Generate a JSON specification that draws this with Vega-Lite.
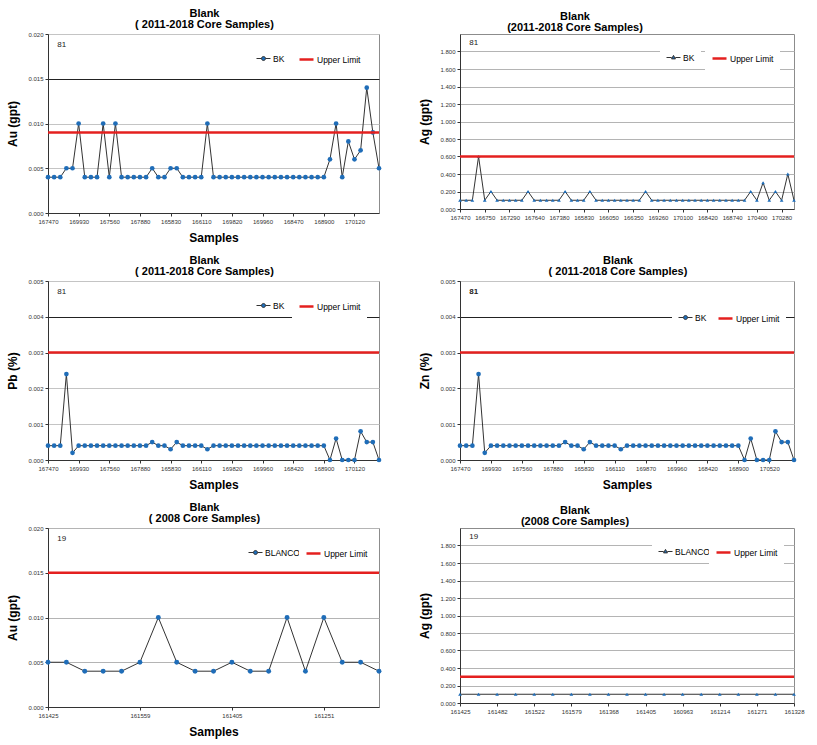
{
  "$schema": "https://vega.github.io/schema/vega-lite/v6.json",
  "padding": {"left": 6, "top": 7, "right": 4, "bottom": 2},
  "background": "white",
  "resolve": {"scale": {"color": "independent"}, "legend": {"color": "independent"}},
  "config": {
    "font": "Liberation Sans",
    "view": {"stroke": "#8c8c8c", "strokeWidth": 1},
    "axis": {
      "labelFontSize": 6,
      "labelColor": "#333",
      "labelFont": "Liberation Sans",
      "titleFont": "Liberation Sans",
      "titleFontSize": 12,
      "titleFontWeight": "bold",
      "titleColor": "#000",
      "domainColor": "#333",
      "tickColor": "#333",
      "tickSize": 3,
      "labelOverlap": false,
      "labelFlush": false,
      "gridColor": "#b4b4b4",
      "gridWidth": 1.2
    },
    "axisX": {"grid": false, "labelAngle": 0, "titlePadding": 8, "labelPadding": 2},
    "axisY": {"titlePadding": 8, "labelPadding": 2},
    "title": {"fontSize": 11, "fontWeight": "bold", "color": "#000", "frame": "group", "offset": 1, "lineHeight": 11, "dx": -9},
    "legend": {
      "orient": "none",
      "direction": "horizontal",
      "title": null,
      "fillColor": "white",
      "padding": 6,
      "labelFontSize": 8.5,
      "labelColor": "#000",
      "labelFont": "Liberation Sans",
      "symbolSize": 196,
      "labelOffset": 2,
      "symbolOpacity": 1
    },
    "text": {"font": "Liberation Sans"}
  },
  "datasets": {
    "au1": [
      {"n": 0, "v": 0.004}, {"n": 1, "v": 0.004}, {"n": 2, "v": 0.004}, {"n": 3, "v": 0.005}, {"n": 4, "v": 0.005},
      {"n": 5, "v": 0.010}, {"n": 6, "v": 0.004}, {"n": 7, "v": 0.004}, {"n": 8, "v": 0.004}, {"n": 9, "v": 0.010},
      {"n": 10, "v": 0.004}, {"n": 11, "v": 0.010}, {"n": 12, "v": 0.004}, {"n": 13, "v": 0.004}, {"n": 14, "v": 0.004},
      {"n": 15, "v": 0.004}, {"n": 16, "v": 0.004}, {"n": 17, "v": 0.005}, {"n": 18, "v": 0.004}, {"n": 19, "v": 0.004},
      {"n": 20, "v": 0.005}, {"n": 21, "v": 0.005}, {"n": 22, "v": 0.004}, {"n": 23, "v": 0.004}, {"n": 24, "v": 0.004},
      {"n": 25, "v": 0.004}, {"n": 26, "v": 0.010}, {"n": 27, "v": 0.004}, {"n": 28, "v": 0.004}, {"n": 29, "v": 0.004},
      {"n": 30, "v": 0.004}, {"n": 31, "v": 0.004}, {"n": 32, "v": 0.004}, {"n": 33, "v": 0.004}, {"n": 34, "v": 0.004},
      {"n": 35, "v": 0.004}, {"n": 36, "v": 0.004}, {"n": 37, "v": 0.004}, {"n": 38, "v": 0.004}, {"n": 39, "v": 0.004},
      {"n": 40, "v": 0.004}, {"n": 41, "v": 0.004}, {"n": 42, "v": 0.004}, {"n": 43, "v": 0.004}, {"n": 44, "v": 0.004},
      {"n": 45, "v": 0.004}, {"n": 46, "v": 0.006}, {"n": 47, "v": 0.010}, {"n": 48, "v": 0.004}, {"n": 49, "v": 0.008},
      {"n": 50, "v": 0.006}, {"n": 51, "v": 0.007}, {"n": 52, "v": 0.014}, {"n": 53, "v": 0.009}, {"n": 54, "v": 0.005}
    ],
    "ag1": [
      {"n": 0, "v": 0.1}, {"n": 1, "v": 0.1}, {"n": 2, "v": 0.1}, {"n": 3, "v": 0.6}, {"n": 4, "v": 0.1},
      {"n": 5, "v": 0.2}, {"n": 6, "v": 0.1}, {"n": 7, "v": 0.1}, {"n": 8, "v": 0.1}, {"n": 9, "v": 0.1},
      {"n": 10, "v": 0.1}, {"n": 11, "v": 0.2}, {"n": 12, "v": 0.1}, {"n": 13, "v": 0.1}, {"n": 14, "v": 0.1},
      {"n": 15, "v": 0.1}, {"n": 16, "v": 0.1}, {"n": 17, "v": 0.2}, {"n": 18, "v": 0.1}, {"n": 19, "v": 0.1},
      {"n": 20, "v": 0.1}, {"n": 21, "v": 0.2}, {"n": 22, "v": 0.1}, {"n": 23, "v": 0.1}, {"n": 24, "v": 0.1},
      {"n": 25, "v": 0.1}, {"n": 26, "v": 0.1}, {"n": 27, "v": 0.1}, {"n": 28, "v": 0.1}, {"n": 29, "v": 0.1},
      {"n": 30, "v": 0.2}, {"n": 31, "v": 0.1}, {"n": 32, "v": 0.1}, {"n": 33, "v": 0.1}, {"n": 34, "v": 0.1},
      {"n": 35, "v": 0.1}, {"n": 36, "v": 0.1}, {"n": 37, "v": 0.1}, {"n": 38, "v": 0.1}, {"n": 39, "v": 0.1},
      {"n": 40, "v": 0.1}, {"n": 41, "v": 0.1}, {"n": 42, "v": 0.1}, {"n": 43, "v": 0.1}, {"n": 44, "v": 0.1},
      {"n": 45, "v": 0.1}, {"n": 46, "v": 0.1}, {"n": 47, "v": 0.2}, {"n": 48, "v": 0.1}, {"n": 49, "v": 0.3},
      {"n": 50, "v": 0.1}, {"n": 51, "v": 0.2}, {"n": 52, "v": 0.1}, {"n": 53, "v": 0.4}, {"n": 54, "v": 0.1}
    ],
    "pb": [
      {"n": 0, "v": 0.0004}, {"n": 1, "v": 0.0004}, {"n": 2, "v": 0.0004}, {"n": 3, "v": 0.0024}, {"n": 4, "v": 0.0002},
      {"n": 5, "v": 0.0004}, {"n": 6, "v": 0.0004}, {"n": 7, "v": 0.0004}, {"n": 8, "v": 0.0004}, {"n": 9, "v": 0.0004},
      {"n": 10, "v": 0.0004}, {"n": 11, "v": 0.0004}, {"n": 12, "v": 0.0004}, {"n": 13, "v": 0.0004}, {"n": 14, "v": 0.0004},
      {"n": 15, "v": 0.0004}, {"n": 16, "v": 0.0004}, {"n": 17, "v": 0.0005}, {"n": 18, "v": 0.0004}, {"n": 19, "v": 0.0004},
      {"n": 20, "v": 0.0003}, {"n": 21, "v": 0.0005}, {"n": 22, "v": 0.0004}, {"n": 23, "v": 0.0004}, {"n": 24, "v": 0.0004},
      {"n": 25, "v": 0.0004}, {"n": 26, "v": 0.0003}, {"n": 27, "v": 0.0004}, {"n": 28, "v": 0.0004}, {"n": 29, "v": 0.0004},
      {"n": 30, "v": 0.0004}, {"n": 31, "v": 0.0004}, {"n": 32, "v": 0.0004}, {"n": 33, "v": 0.0004}, {"n": 34, "v": 0.0004},
      {"n": 35, "v": 0.0004}, {"n": 36, "v": 0.0004}, {"n": 37, "v": 0.0004}, {"n": 38, "v": 0.0004}, {"n": 39, "v": 0.0004},
      {"n": 40, "v": 0.0004}, {"n": 41, "v": 0.0004}, {"n": 42, "v": 0.0004}, {"n": 43, "v": 0.0004}, {"n": 44, "v": 0.0004},
      {"n": 45, "v": 0.0004}, {"n": 46, "v": 0.0}, {"n": 47, "v": 0.0006}, {"n": 48, "v": 0.0}, {"n": 49, "v": 0.0},
      {"n": 50, "v": 0.0}, {"n": 51, "v": 0.0008}, {"n": 52, "v": 0.0005}, {"n": 53, "v": 0.0005}, {"n": 54, "v": 0.0}
    ],
    "zn": [
      {"n": 0, "v": 0.0004}, {"n": 1, "v": 0.0004}, {"n": 2, "v": 0.0004}, {"n": 3, "v": 0.0024}, {"n": 4, "v": 0.0002},
      {"n": 5, "v": 0.0004}, {"n": 6, "v": 0.0004}, {"n": 7, "v": 0.0004}, {"n": 8, "v": 0.0004}, {"n": 9, "v": 0.0004},
      {"n": 10, "v": 0.0004}, {"n": 11, "v": 0.0004}, {"n": 12, "v": 0.0004}, {"n": 13, "v": 0.0004}, {"n": 14, "v": 0.0004},
      {"n": 15, "v": 0.0004}, {"n": 16, "v": 0.0004}, {"n": 17, "v": 0.0005}, {"n": 18, "v": 0.0004}, {"n": 19, "v": 0.0004},
      {"n": 20, "v": 0.0003}, {"n": 21, "v": 0.0005}, {"n": 22, "v": 0.0004}, {"n": 23, "v": 0.0004}, {"n": 24, "v": 0.0004},
      {"n": 25, "v": 0.0004}, {"n": 26, "v": 0.0003}, {"n": 27, "v": 0.0004}, {"n": 28, "v": 0.0004}, {"n": 29, "v": 0.0004},
      {"n": 30, "v": 0.0004}, {"n": 31, "v": 0.0004}, {"n": 32, "v": 0.0004}, {"n": 33, "v": 0.0004}, {"n": 34, "v": 0.0004},
      {"n": 35, "v": 0.0004}, {"n": 36, "v": 0.0004}, {"n": 37, "v": 0.0004}, {"n": 38, "v": 0.0004}, {"n": 39, "v": 0.0004},
      {"n": 40, "v": 0.0004}, {"n": 41, "v": 0.0004}, {"n": 42, "v": 0.0004}, {"n": 43, "v": 0.0004}, {"n": 44, "v": 0.0004},
      {"n": 45, "v": 0.0004}, {"n": 46, "v": 0.0}, {"n": 47, "v": 0.0006}, {"n": 48, "v": 0.0}, {"n": 49, "v": 0.0},
      {"n": 50, "v": 0.0}, {"n": 51, "v": 0.0008}, {"n": 52, "v": 0.0005}, {"n": 53, "v": 0.0005}, {"n": 54, "v": 0.0}
    ],
    "au2": [
      {"n": 0, "v": 0.005}, {"n": 1, "v": 0.005}, {"n": 2, "v": 0.004}, {"n": 3, "v": 0.004}, {"n": 4, "v": 0.004},
      {"n": 5, "v": 0.005}, {"n": 6, "v": 0.010}, {"n": 7, "v": 0.005}, {"n": 8, "v": 0.004}, {"n": 9, "v": 0.004},
      {"n": 10, "v": 0.005}, {"n": 11, "v": 0.004}, {"n": 12, "v": 0.004}, {"n": 13, "v": 0.010}, {"n": 14, "v": 0.004},
      {"n": 15, "v": 0.010}, {"n": 16, "v": 0.005}, {"n": 17, "v": 0.005}, {"n": 18, "v": 0.004}
    ],
    "ag2": [
      {"n": 0, "v": 0.1}, {"n": 1, "v": 0.1}, {"n": 2, "v": 0.1}, {"n": 3, "v": 0.1}, {"n": 4, "v": 0.1},
      {"n": 5, "v": 0.1}, {"n": 6, "v": 0.1}, {"n": 7, "v": 0.1}, {"n": 8, "v": 0.1}, {"n": 9, "v": 0.1},
      {"n": 10, "v": 0.1}, {"n": 11, "v": 0.1}, {"n": 12, "v": 0.1}, {"n": 13, "v": 0.1}, {"n": 14, "v": 0.1},
      {"n": 15, "v": 0.1}, {"n": 16, "v": 0.1}, {"n": 17, "v": 0.1}, {"n": 18, "v": 0.1}
    ]
  },
  "columns": 2,
  "spacing": {"column": 36, "row": 10},
  "concat": [
    {
      "width": 331, "height": 179,
      "title": {"text": ["Blank", "( 2011-2018 Core Samples)"]},
      "data": {"name": "au1"},
      "resolve": {"scale": {"color": "independent"}, "legend": {"color": "independent"}},
      "layer": [
        {
          "mark": {"type": "line", "color": "#333", "strokeWidth": 1},
          "encoding": {
            "x": {"field": "n", "type": "quantitative", "title": "Samples",
              "scale": {"domain": [0, 54], "nice": false, "zero": false},
              "axis": {"values": [0, 5, 10, 15, 20, 25, 30, 35, 40, 45, 50], "tickCount": 100, "labelOverlap": false,
                "labelExpr": "['167470','169930','167560','167880','165830','166110','169820','169960','168470','168900','170120'][round(datum.value/5)]"}},
            "y": {"field": "v", "type": "quantitative", "title": "Au (gpt)",
              "scale": {"domain": [0, 0.02], "nice": false},
              "axis": {"values": [0, 0.005, 0.01, 0.015, 0.02], "tickCount": 100, "format": ".3f", "labelOverlap": false,
                "gridColor": {"condition": {"test": "abs(datum.value - 0.015) < 1e-9", "value": "#222"}, "value": "#c4c4c4"}}}
          }
        },
        {
          "mark": {"type": "point", "filled": true, "size": 22, "opacity": 1},
          "encoding": {
            "x": {"field": "n", "type": "quantitative"},
            "y": {"field": "v", "type": "quantitative"},
            "color": {"datum": "BK", "type": "nominal",
              "scale": {"domain": ["BK"], "range": ["#1f6db8"]},
              "legend": {"legendX": 202, "legendY": 11,
                "symbolType": "M-1,0H-0.29M0.29,0H1M0.29,0A0.29,0.29,0,1,1,-0.29,0A0.29,0.29,0,1,1,0.29,0",
                "symbolStrokeColor": "#333", "symbolStrokeWidth": 1}}
          }
        },
        {
          "data": {"values": [{"limit": 0.009}]},
          "mark": {"type": "rule", "strokeWidth": 2.5},
          "encoding": {"y": {"field": "limit", "type": "quantitative"},
            "color": {"datum": "Upper Limit", "type": "nominal",
              "scale": {"domain": ["Upper Limit"], "range": ["#e4201f"]},
              "legend": {"legendX": 244, "legendY": 11, "symbolType": "M-1,0H1", "symbolStrokeWidth": 2.5}}}
        },
        {
          "data": {"values": [{"count": "81"}]},
          "mark": {"type": "text", "fontSize": 8, "color": "#222", "align": "left"},
          "encoding": {"x": {"datum": 1.5, "type": "quantitative"}, "y": {"datum": 0.0188, "type": "quantitative"}, "text": {"field": "count"}}
        }
      ]
    },
    {
      "width": 334, "height": 175,
      "title": {"text": ["Blank", "(2011-2018 Core Samples)"], "dx": -52},
      "data": {"name": "ag1"},
      "resolve": {"scale": {"color": "independent"}, "legend": {"color": "independent"}},
      "layer": [
        {
          "mark": {"type": "line", "color": "#333", "strokeWidth": 1},
          "encoding": {
            "x": {"field": "n", "type": "quantitative", "title": null,
              "scale": {"domain": [0, 54], "nice": false, "zero": false},
              "axis": {"values": [0, 4, 8, 12, 16, 20, 24, 28, 32, 36, 40, 44, 48, 52], "tickCount": 100, "labelOverlap": false,
                "labelExpr": "['167470','166750','167290','167640','167380','165830','166050','166350','169260','170100','168420','168740','170400','170280'][round(datum.value/4)]"}},
            "y": {"field": "v", "type": "quantitative", "title": "Ag (gpt)",
              "scale": {"domain": [0, 2], "nice": false},
              "axis": {"values": [0, 0.2, 0.4, 0.6, 0.8, 1.0, 1.2, 1.4, 1.6, 1.8], "tickCount": 100, "format": ".3f", "labelOverlap": false}}
          }
        },
        {
          "mark": {"type": "point", "filled": true, "shape": "triangle-up", "size": 14, "opacity": 1},
          "encoding": {
            "x": {"field": "n", "type": "quantitative"},
            "y": {"field": "v", "type": "quantitative"},
            "color": {"datum": "BK", "type": "nominal",
              "scale": {"domain": ["BK"], "range": ["#1f6db8"]},
              "legend": {"legendX": 200, "legendY": 10,
                "symbolType": "M-1,0H-0.26M0.26,0H1M0,-0.3L0.28,0.2L-0.28,0.2Z",
                "symbolStrokeColor": "#333", "symbolStrokeWidth": 1}}
          }
        },
        {
          "data": {"values": [{"limit": 0.6}]},
          "mark": {"type": "rule", "strokeWidth": 2.5},
          "encoding": {"y": {"field": "limit", "type": "quantitative"},
            "color": {"datum": "Upper Limit", "type": "nominal",
              "scale": {"domain": ["Upper Limit"], "range": ["#e4201f"]},
              "legend": {"legendX": 245, "legendY": 10, "symbolType": "M-1,0H1", "symbolStrokeWidth": 2.5}}}
        },
        {
          "data": {"values": [{"count": "81"}]},
          "mark": {"type": "text", "fontSize": 8, "color": "#222", "align": "left"},
          "encoding": {"x": {"datum": 1.5, "type": "quantitative"}, "y": {"datum": 1.9, "type": "quantitative"}, "text": {"field": "count"}}
        }
      ]
    },
    {
      "width": 331, "height": 179,
      "title": {"text": ["Blank", "( 2011-2018 Core Samples)"]},
      "data": {"name": "pb"},
      "resolve": {"scale": {"color": "independent"}, "legend": {"color": "independent"}},
      "layer": [
        {
          "mark": {"type": "line", "color": "#333", "strokeWidth": 1},
          "encoding": {
            "x": {"field": "n", "type": "quantitative", "title": "Samples",
              "scale": {"domain": [0, 54], "nice": false, "zero": false},
              "axis": {"values": [0, 5, 10, 15, 20, 25, 30, 35, 40, 45, 50], "tickCount": 100, "labelOverlap": false,
                "labelExpr": "['167470','169930','167560','167880','165830','166110','169820','169960','168420','168900','170120'][round(datum.value/5)]"}},
            "y": {"field": "v", "type": "quantitative", "title": "Pb (%)",
              "scale": {"domain": [0, 0.005], "nice": false},
              "axis": {"values": [0, 0.001, 0.002, 0.003, 0.004, 0.005], "tickCount": 100, "format": ".3f", "labelOverlap": false,
                "gridColor": {"condition": {"test": "abs(datum.value - 0.004) < 1e-9", "value": "#222"}, "value": "#c4c4c4"}}}
          }
        },
        {
          "mark": {"type": "point", "filled": true, "size": 22, "opacity": 1},
          "encoding": {
            "x": {"field": "n", "type": "quantitative"},
            "y": {"field": "v", "type": "quantitative"},
            "color": {"datum": "BK", "type": "nominal",
              "scale": {"domain": ["BK"], "range": ["#1f6db8"]},
              "legend": {"legendX": 202, "legendY": 11,
                "symbolType": "M-1,0H-0.29M0.29,0H1M0.29,0A0.29,0.29,0,1,1,-0.29,0A0.29,0.29,0,1,1,0.29,0",
                "symbolStrokeColor": "#333", "symbolStrokeWidth": 1}}
          }
        },
        {
          "data": {"values": [{"limit": 0.003}]},
          "mark": {"type": "rule", "strokeWidth": 2.5},
          "encoding": {"y": {"field": "limit", "type": "quantitative"},
            "color": {"datum": "Upper Limit", "type": "nominal",
              "scale": {"domain": ["Upper Limit"], "range": ["#e4201f"]},
              "legend": {"legendX": 244, "legendY": 11, "symbolType": "M-1,0H1", "symbolStrokeWidth": 2.5}}}
        },
        {
          "data": {"values": [{"count": "81"}]},
          "mark": {"type": "text", "fontSize": 8, "color": "#222", "align": "left"},
          "encoding": {"x": {"datum": 1.5, "type": "quantitative"}, "y": {"datum": 0.0047, "type": "quantitative"}, "text": {"field": "count"}}
        }
      ]
    },
    {
      "width": 334, "height": 179,
      "title": {"text": ["Blank", "( 2011-2018 Core Samples)"]},
      "data": {"name": "zn"},
      "resolve": {"scale": {"color": "independent"}, "legend": {"color": "independent"}},
      "layer": [
        {
          "mark": {"type": "line", "color": "#333", "strokeWidth": 1},
          "encoding": {
            "x": {"field": "n", "type": "quantitative", "title": "Samples",
              "scale": {"domain": [0, 54], "nice": false, "zero": false},
              "axis": {"values": [0, 5, 10, 15, 20, 25, 30, 35, 40, 45, 50], "tickCount": 100, "labelOverlap": false,
                "labelExpr": "['167470','169930','167560','167880','165830','166110','169870','169960','168420','168900','170520'][round(datum.value/5)]"}},
            "y": {"field": "v", "type": "quantitative", "title": "Zn (%)",
              "scale": {"domain": [0, 0.005], "nice": false},
              "axis": {"values": [0, 0.001, 0.002, 0.003, 0.004, 0.005], "tickCount": 100, "format": ".3f", "labelOverlap": false,
                "gridColor": {"condition": {"test": "abs(datum.value - 0.004) < 1e-9", "value": "#222"}, "value": "#c4c4c4"}}}
          }
        },
        {
          "mark": {"type": "point", "filled": true, "size": 22, "opacity": 1},
          "encoding": {
            "x": {"field": "n", "type": "quantitative"},
            "y": {"field": "v", "type": "quantitative"},
            "color": {"datum": "BK", "type": "nominal",
              "scale": {"domain": ["BK"], "range": ["#1f6db8"]},
              "legend": {"legendX": 212, "legendY": 23,
                "symbolType": "M-1,0H-0.29M0.29,0H1M0.29,0A0.29,0.29,0,1,1,-0.29,0A0.29,0.29,0,1,1,0.29,0",
                "symbolStrokeColor": "#333", "symbolStrokeWidth": 1}}
          }
        },
        {
          "data": {"values": [{"limit": 0.003}]},
          "mark": {"type": "rule", "strokeWidth": 2.5},
          "encoding": {"y": {"field": "limit", "type": "quantitative"},
            "color": {"datum": "Upper Limit", "type": "nominal",
              "scale": {"domain": ["Upper Limit"], "range": ["#e4201f"]},
              "legend": {"legendX": 251, "legendY": 23, "symbolType": "M-1,0H1", "symbolStrokeWidth": 2.5}}}
        },
        {
          "data": {"values": [{"count": "81"}]},
          "mark": {"type": "text", "fontSize": 8, "fontWeight": "bold", "color": "#222", "align": "left"},
          "encoding": {"x": {"datum": 1.5, "type": "quantitative"}, "y": {"datum": 0.0047, "type": "quantitative"}, "text": {"field": "count"}}
        }
      ]
    },
    {
      "width": 331, "height": 179,
      "title": {"text": ["Blank", "( 2008 Core Samples)"]},
      "data": {"name": "au2"},
      "resolve": {"scale": {"color": "independent"}, "legend": {"color": "independent"}},
      "layer": [
        {
          "mark": {"type": "line", "color": "#333", "strokeWidth": 1},
          "encoding": {
            "x": {"field": "n", "type": "quantitative", "title": "Samples",
              "scale": {"domain": [0, 18], "nice": false, "zero": false},
              "axis": {"values": [0, 5, 10, 15], "tickCount": 100, "labelOverlap": false,
                "labelExpr": "['161425','161559','161405','161251'][round(datum.value/5)]"}},
            "y": {"field": "v", "type": "quantitative", "title": "Au (gpt)",
              "scale": {"domain": [0, 0.02], "nice": false},
              "axis": {"values": [0, 0.005, 0.01, 0.015, 0.02], "tickCount": 100, "format": ".3f", "labelOverlap": false, "gridColor": "#b4b4b4"}}
          }
        },
        {
          "mark": {"type": "point", "filled": true, "size": 24, "opacity": 1},
          "encoding": {
            "x": {"field": "n", "type": "quantitative"},
            "y": {"field": "v", "type": "quantitative"},
            "color": {"datum": "BLANCO", "type": "nominal",
              "scale": {"domain": ["BLANCO"], "range": ["#1f6db8"]},
              "legend": {"legendX": 194, "legendY": 11,
                "symbolType": "M-1,0H-0.29M0.29,0H1M0.29,0A0.29,0.29,0,1,1,-0.29,0A0.29,0.29,0,1,1,0.29,0",
                "symbolStrokeColor": "#333", "symbolStrokeWidth": 1}}
          }
        },
        {
          "data": {"values": [{"limit": 0.015}]},
          "mark": {"type": "rule", "strokeWidth": 2.5},
          "encoding": {"y": {"field": "limit", "type": "quantitative"},
            "color": {"datum": "Upper Limit", "type": "nominal",
              "scale": {"domain": ["Upper Limit"], "range": ["#e4201f"]},
              "legend": {"legendX": 251, "legendY": 11, "symbolType": "M-1,0H1", "symbolStrokeWidth": 2.5}}}
        },
        {
          "data": {"values": [{"count": "19"}]},
          "mark": {"type": "text", "fontSize": 8, "color": "#222", "align": "left"},
          "encoding": {"x": {"datum": 0.5, "type": "quantitative"}, "y": {"datum": 0.0188, "type": "quantitative"}, "text": {"field": "count"}}
        }
      ]
    },
    {
      "width": 334, "height": 175,
      "title": {"text": ["Blank", "(2008 Core Samples)"], "dx": -52},
      "data": {"name": "ag2"},
      "resolve": {"scale": {"color": "independent"}, "legend": {"color": "independent"}},
      "layer": [
        {
          "mark": {"type": "line", "color": "#333", "strokeWidth": 1},
          "encoding": {
            "x": {"field": "n", "type": "quantitative", "title": null,
              "scale": {"domain": [0, 18], "nice": false, "zero": false},
              "axis": {"values": [0, 2, 4, 6, 8, 10, 12, 14, 16, 18], "tickCount": 100, "labelOverlap": false,
                "labelExpr": "['161425','161482','161522','161579','161368','161405','160963','161214','161271','161328'][round(datum.value/2)]"}},
            "y": {"field": "v", "type": "quantitative", "title": "Ag (gpt)",
              "scale": {"domain": [0, 2], "nice": false},
              "axis": {"values": [0, 0.2, 0.4, 0.6, 0.8, 1.0, 1.2, 1.4, 1.6, 1.8], "tickCount": 100, "format": ".3f", "labelOverlap": false}}
          }
        },
        {
          "mark": {"type": "point", "filled": true, "shape": "triangle-up", "size": 14, "opacity": 1},
          "encoding": {
            "x": {"field": "n", "type": "quantitative"},
            "y": {"field": "v", "type": "quantitative"},
            "color": {"datum": "BLANCO", "type": "nominal",
              "scale": {"domain": ["BLANCO"], "range": ["#1f6db8"]},
              "legend": {"legendX": 192, "legendY": 10,
                "symbolType": "M-1,0H-0.26M0.26,0H1M0,-0.3L0.28,0.2L-0.28,0.2Z",
                "symbolStrokeColor": "#333", "symbolStrokeWidth": 1}}
          }
        },
        {
          "data": {"values": [{"limit": 0.3}]},
          "mark": {"type": "rule", "strokeWidth": 2.5},
          "encoding": {"y": {"field": "limit", "type": "quantitative"},
            "color": {"datum": "Upper Limit", "type": "nominal",
              "scale": {"domain": ["Upper Limit"], "range": ["#e4201f"]},
              "legend": {"legendX": 249, "legendY": 10, "symbolType": "M-1,0H1", "symbolStrokeWidth": 2.5}}}
        },
        {
          "data": {"values": [{"count": "19"}]},
          "mark": {"type": "text", "fontSize": 8, "color": "#222", "align": "left"},
          "encoding": {"x": {"datum": 0.5, "type": "quantitative"}, "y": {"datum": 1.9, "type": "quantitative"}, "text": {"field": "count"}}
        }
      ]
    }
  ]
}
